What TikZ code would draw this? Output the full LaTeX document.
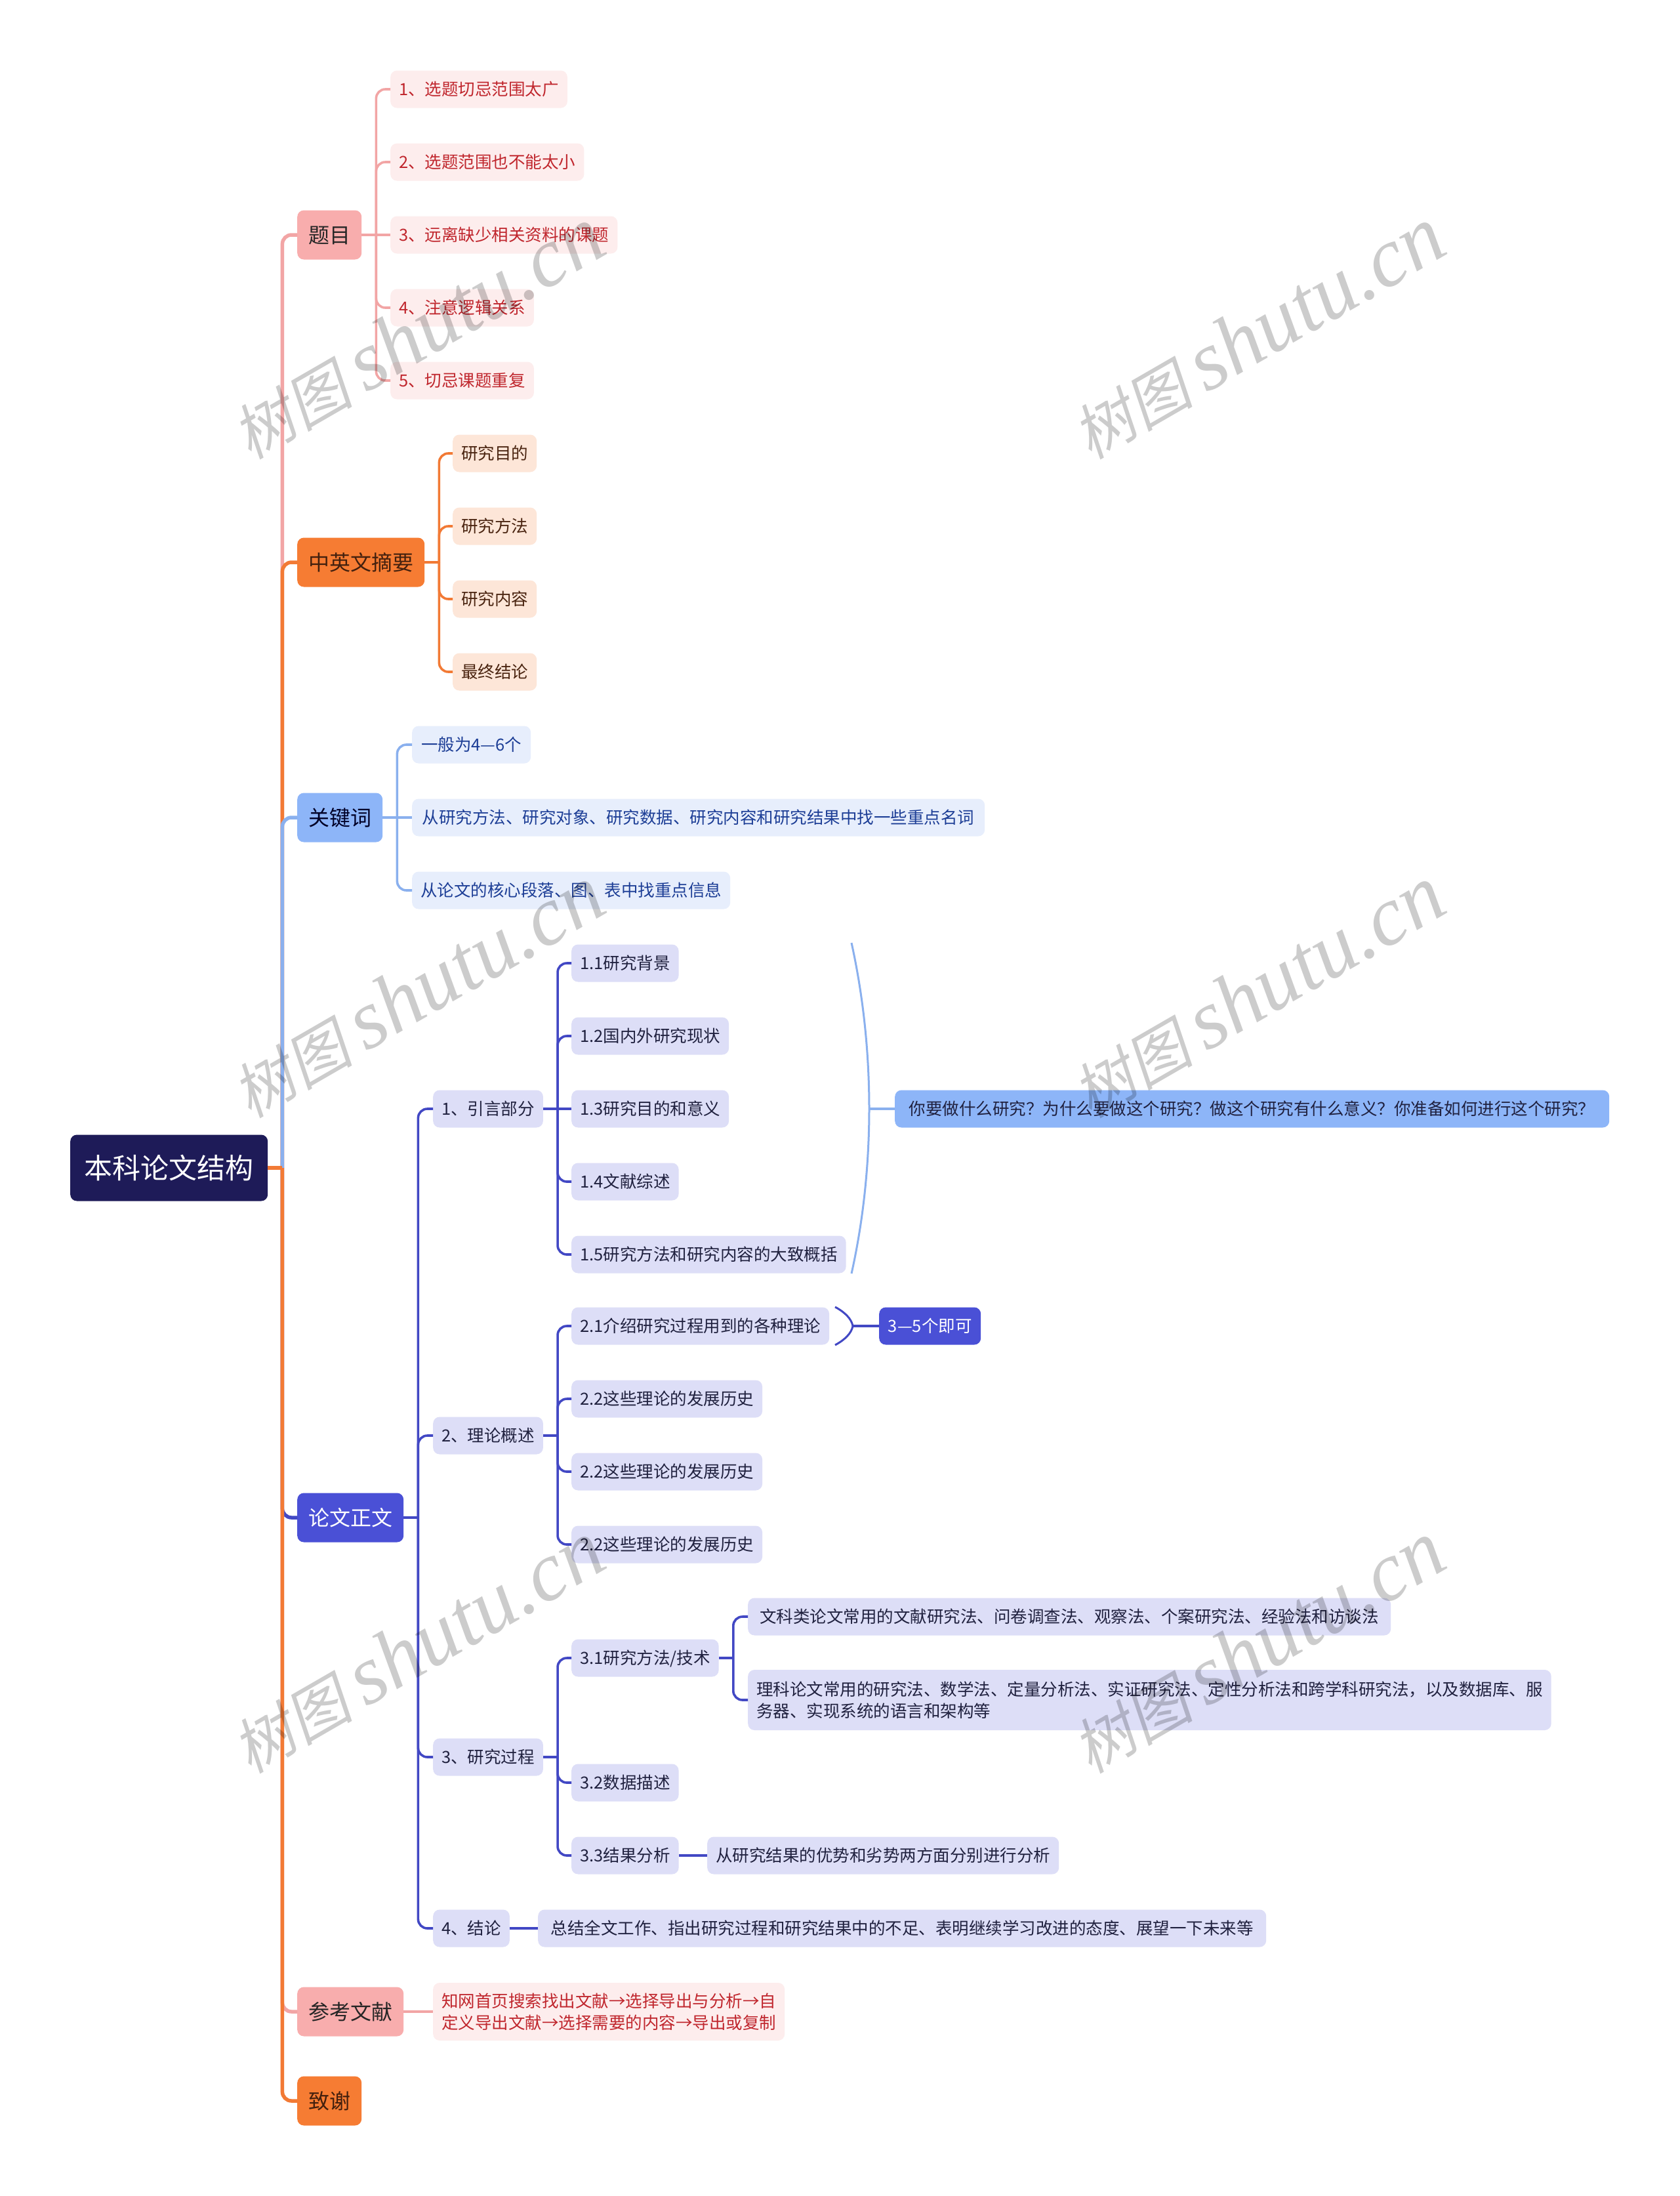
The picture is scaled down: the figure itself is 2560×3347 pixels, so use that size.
\documentclass[tikz,border=0pt]{standalone}
\usepackage{fontspec}
\setmainfont{Noto Sans CJK SC}
\newfontfamily\wmcjk[FakeSlant=0.2]{Noto Sans CJK SC}
\newfontfamily\wmlat{Liberation Serif}
\definecolor{rootfill}{HTML}{1E1B58}
\definecolor{pinkfill}{HTML}{F8ADAD}
\definecolor{pinkline}{HTML}{F2A5A5}
\definecolor{pinklight}{HTML}{FDEDED}
\definecolor{pinktext}{HTML}{C0262D}
\definecolor{orafill}{HTML}{F67C33}
\definecolor{oraline}{HTML}{F27A35}
\definecolor{oralight}{HTML}{FDE6D8}
\definecolor{oratext}{HTML}{4A2410}
\definecolor{bluefill}{HTML}{8DB5F8}
\definecolor{blueline}{HTML}{8AB0EE}
\definecolor{bluelight}{HTML}{E7EEFC}
\definecolor{bluetext}{HTML}{1D3E96}
\definecolor{indfill}{HTML}{4A50D6}
\definecolor{indline}{HTML}{4248C4}
\definecolor{indlight}{HTML}{DDDEF7}
\definecolor{indtext}{HTML}{20213F}
\newcommand\lnk[3]{\draw[#1] (#2.east) -- ++(22,0) coordinate (jn); \draw[#1,rounded corners=14pt] (jn) |- (#3.west);}
\newcommand\lnks[3]{\draw[#1] (#2.east) -- (#3.west);}
\begin{document}
\begin{tikzpicture}[x=1pt,y=-1pt,
  rootbox/.style={anchor=west, rounded corners=10pt, fill=rootfill, text=white, inner xsep=20pt, inner ysep=0pt,
    font=\fontsize{43pt}{50pt}\selectfont, text height=37pt, text depth=5pt, minimum height=101pt, minimum width=301pt},
  lone/.style={anchor=west, rounded corners=10pt, inner xsep=16pt, inner ysep=0pt,
    font=\fontsize{32pt}{38pt}\selectfont, text height=28pt, text depth=4pt, minimum height=75pt},
  ltwo/.style={anchor=west, rounded corners=10pt, inner xsep=13pt, inner ysep=0pt, align=left,
    font=\fontsize{25.5pt}{33pt}\selectfont, text height=22.5pt, text depth=3pt, minimum height=57pt},
  multi/.style={text height={}, text depth={}},
  pk/.style={ltwo, fill=pinklight, text=pinktext},
  orn/.style={ltwo, fill=oralight, text=oratext},
  bln/.style={ltwo, fill=bluelight, text=bluetext},
  ind/.style={ltwo, fill=indlight, text=indtext},
  rootln/.style={line width=5.5pt},
  subln/.style={line width=3.6pt},
  wm/.style={rotate=30, opacity=0.2, inner sep=0pt}
]
\useasboundingbox (0,0) rectangle (2560,3347);
\clip (0,0) rectangle (2560,3347);
\fill[white] (0,0) rectangle (2560,3347);

% root
\node[rootbox] (root) at (107,1780) {本科论文结构};

% level 1
\node[lone, fill=pinkfill, text=black!85, minimum width=98pt] (t1) at (453,358) {题目};
\node[lone, fill=orafill, text=oratext!90!black, minimum width=194pt] (t2) at (453,857) {中英文摘要};
\node[lone, fill=bluefill, text=black!85!blue, minimum width=130pt] (t3) at (453,1246) {关键词};
\node[lone, fill=indfill, text=white, minimum width=162pt] (t4) at (453,2313) {论文正文};
\node[lone, fill=pinkfill, text=black!85, minimum width=162pt] (t5) at (453,3066) {参考文献};
\node[lone, fill=orafill, text=oratext!90!black, minimum width=98pt] (t6) at (453,3202) {致谢};

% 题目 children
\node[pk, minimum width=267pt] (a1) at (595,136) {1、选题切忌范围太广};
\node[pk, minimum width=290pt] (a2) at (595,247) {2、选题范围也不能太小};
\node[pk, minimum width=344pt] (a3) at (595,358) {3、远离缺少相关资料的课题};
\node[pk, minimum width=218pt] (a4) at (595,469) {4、注意逻辑关系};
\node[pk, minimum width=218pt] (a5) at (595,580) {5、切忌课题重复};

% 中英文摘要 children
\node[orn, minimum width=128pt] (b1) at (690,691) {研究目的};
\node[orn, minimum width=128pt] (b2) at (690,802) {研究方法};
\node[orn, minimum width=128pt] (b3) at (690,913) {研究内容};
\node[orn, minimum width=128pt] (b4) at (690,1024) {最终结论};

% 关键词 children
\node[bln, minimum width=181pt] (c1) at (628,1135) {一般为4—6个};
\node[bln, minimum width=873pt] (c2) at (628,1246) {从研究方法、研究对象、研究数据、研究内容和研究结果中找一些重点名词};
\node[bln, minimum width=478pt] (c3) at (628,1357) {从论文的核心段落、图、表中找重点信息};

% 论文正文 children
\node[ind, minimum width=167pt] (d1) at (660,1690) {1、引言部分};
\node[ind, minimum width=167pt] (d2) at (660,2188) {2、理论概述};
\node[ind, minimum width=167pt] (d3) at (660,2678) {3、研究过程};
\node[ind, minimum width=115pt] (d4) at (660,2939) {4、结论};

% 引言 children
\node[ind, minimum width=162pt] (e1) at (871,1468) {1.1研究背景};
\node[ind, minimum width=237pt] (e2) at (871,1579) {1.2国内外研究现状};
\node[ind, minimum width=237pt] (e3) at (871,1690) {1.3研究目的和意义};
\node[ind, minimum width=162pt] (e4) at (871,1801) {1.4文献综述};
\node[ind, minimum width=412pt] (e5) at (871,1912) {1.5研究方法和研究内容的大致概括};
\node[ltwo, fill=bluefill, text=indtext, minimum width=1089pt] (es) at (1364,1690) {你要做什么研究？为什么要做这个研究？做这个研究有什么意义？你准备如何进行这个研究？};

% 理论概述 children
\node[ind, minimum width=391pt] (f1) at (871,2021) {2.1介绍研究过程用到的各种理论};
\node[ind, minimum width=288pt] (f2) at (871,2132) {2.2这些理论的发展历史};
\node[ind, minimum width=288pt] (f3) at (871,2243) {2.2这些理论的发展历史};
\node[ind, minimum width=288pt] (f4) at (871,2354) {2.2这些理论的发展历史};
\node[ltwo, fill=indfill, text=white, minimum width=155pt] (fs) at (1340,2021) {3—5个即可};

% 研究过程 children
\node[ind, minimum width=222pt] (g1) at (871,2527) {3.1研究方法/技术};
\node[ind, minimum width=162pt] (g2) at (871,2717) {3.2数据描述};
\node[ind, minimum width=162pt] (g3) at (871,2828) {3.3结果分析};
\node[ind, minimum width=980pt] (h1) at (1140,2464) {文科类论文常用的文献研究法、问卷调查法、观察法、个案研究法、经验法和访谈法};
\node[ind, multi, minimum width=1224pt, minimum height=92pt] (h2) at (1140,2591) {理科论文常用的研究法、数学法、定量分析法、实证研究法、定性分析法和跨学科研究法，以及数据库、服\\务器、实现系统的语言和架构等};
\node[ind, minimum width=527pt] (g3c) at (1078,2828) {从研究结果的优势和劣势两方面分别进行分析};
\node[ind, minimum width=1110pt] (d4c) at (820,2939) {总结全文工作、指出研究过程和研究结果中的不足、表明继续学习改进的态度、展望一下未来等};

% 参考文献 child
\node[pk, multi, minimum width=527pt, minimum height=88pt] (t5c) at (660,3066) {知网首页搜索找出文献→选择导出与分析→自\\定义导出文献→选择需要的内容→导出或复制};

% ---- connectors from root
\lnk{rootln,pinkline}{root}{t1}
\lnk{rootln,oraline}{root}{t2}
\lnk{rootln,blueline}{root}{t3}
\lnk{rootln,indline}{root}{t4}
\lnk{rootln,pinkline}{root}{t5}
\lnk{rootln,oraline}{root}{t6}

% 题目
\lnk{subln,pinkline}{t1}{a1}
\lnk{subln,pinkline}{t1}{a2}
\lnks{subln,pinkline}{t1}{a3}
\lnk{subln,pinkline}{t1}{a4}
\lnk{subln,pinkline}{t1}{a5}
% 中英文摘要
\lnk{subln,oraline}{t2}{b1}
\lnk{subln,oraline}{t2}{b2}
\lnk{subln,oraline}{t2}{b3}
\lnk{subln,oraline}{t2}{b4}
% 关键词
\lnk{subln,blueline}{t3}{c1}
\lnks{subln,blueline}{t3}{c2}
\lnk{subln,blueline}{t3}{c3}
% 论文正文
\lnk{subln,indline}{t4}{d1}
\lnk{subln,indline}{t4}{d2}
\lnk{subln,indline}{t4}{d3}
\lnk{subln,indline}{t4}{d4}
% 引言
\lnk{subln,indline}{d1}{e1}
\lnk{subln,indline}{d1}{e2}
\lnks{subln,indline}{d1}{e3}
\lnk{subln,indline}{d1}{e4}
\lnk{subln,indline}{d1}{e5}
% 理论概述
\lnk{subln,indline}{d2}{f1}
\lnk{subln,indline}{d2}{f2}
\lnk{subln,indline}{d2}{f3}
\lnk{subln,indline}{d2}{f4}
% 研究过程
\lnk{subln,indline}{d3}{g1}
\lnk{subln,indline}{d3}{g2}
\lnk{subln,indline}{d3}{g3}
\lnk{subln,indline}{g1}{h1}
\lnk{subln,indline}{g1}{h2}
\lnks{subln,indline}{g3}{g3c}
\lnks{subln,indline}{d4}{d4c}
\lnks{subln,pinkline}{t5}{t5c}

% summary braces
\coordinate (ebt) at (1298,1437);
\coordinate (ebm) at (1325,1690);
\coordinate (ebb) at (1298,1941);
\draw[blueline, line width=3pt] (ebt) .. controls (1334,1600) and (1334,1780) .. (ebb);
\draw[blueline, line width=3.2pt] (ebm) -- (es.west);

\coordinate (fbt) at (1273,1992);
\coordinate (fbm) at (1300,2021);
\coordinate (fbb) at (1273,2050);
\draw[indline, line width=3pt] (fbt) .. controls (1288,2000) and (1298,2010) .. (fbm) .. controls (1298,2032) and (1288,2042) .. (fbb);
\draw[indline, line width=3.2pt] (fbm) -- (fs.west);

% watermarks
\foreach \wx/\wy [count=\i] in {636/508,1917/508,636/1512,1917/1512,636/2511,1917/2511}{
  \node[wm] (wm\i) at (\wx,\wy) {{\wmcjk\fontsize{92pt}{100pt}\selectfont 树图}\hspace{20pt}{\wmlat\itshape\fontsize{128pt}{132pt}\selectfont shutu.cn}};
}
\end{tikzpicture}
\end{document}
